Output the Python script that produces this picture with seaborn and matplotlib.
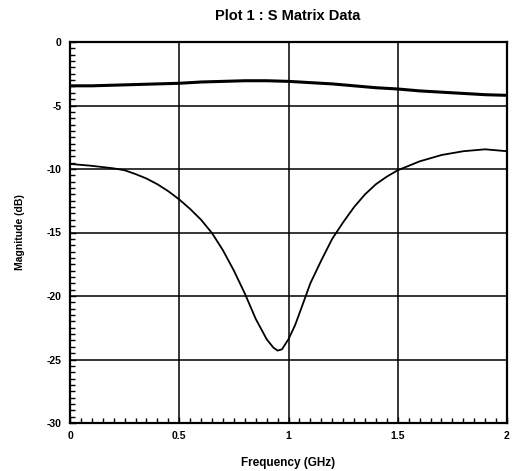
import numpy as np
import pandas as pd
import seaborn as sns
import matplotlib
matplotlib.use("Agg")
import matplotlib.pyplot as plt
from matplotlib.ticker import MultipleLocator

# ---- data ----
freq_upper = [0.0, 0.1, 0.2, 0.3, 0.4, 0.5, 0.6, 0.7, 0.8, 0.9, 1.0,
              1.1, 1.2, 1.3, 1.4, 1.5, 1.6, 1.7, 1.8, 1.9, 2.0]
mag_upper = [-3.45, -3.45, -3.4, -3.35, -3.3, -3.25, -3.15, -3.1, -3.05, -3.05, -3.1,
             -3.2, -3.3, -3.45, -3.6, -3.7, -3.85, -3.95, -4.05, -4.15, -4.2]

freq_lower = [0.0, 0.1, 0.2, 0.25, 0.3, 0.35, 0.4, 0.45, 0.5, 0.55, 0.6, 0.65, 0.7,
              0.75, 0.8, 0.85, 0.9, 0.93, 0.95, 0.97, 1.0, 1.03, 1.06, 1.1, 1.15,
              1.2, 1.25, 1.3, 1.35, 1.4, 1.45, 1.5, 1.6, 1.7, 1.8, 1.9, 2.0]
mag_lower = [-9.6, -9.75, -9.95, -10.1, -10.4, -10.75, -11.2, -11.75, -12.4, -13.15,
             -14.0, -15.05, -16.4, -18.0, -19.8, -21.8, -23.4, -24.05, -24.3, -24.2,
             -23.4, -22.3, -20.9, -19.0, -17.2, -15.5, -14.2, -13.0, -12.0, -11.2,
             -10.6, -10.1, -9.4, -8.9, -8.6, -8.45, -8.6]

x_ticks = [0, 0.5, 1, 1.5, 2]
x_ticklabels = ["0", "0.5", "1", "1.5", "2"]
y_ticks = [0, -5, -10, -15, -20, -25, -30]
y_ticklabels = ["0", "-5", "-10", "-15", "-20", "-25", "-30"]

title = "Plot 1 : S Matrix Data"
xlabel = "Frequency (GHz)"
ylabel = "Magnitude (dB)"

sns.set_theme(style="white")
plt.rcParams["font.family"] = ["Liberation Sans", "DejaVu Sans"]
plt.rcParams["text.color"] = "black"
plt.rcParams["axes.labelcolor"] = "black"

fig = plt.figure(figsize=(5.16, 4.71), dpi=100)
ax = fig.add_axes([70 / 516, 48 / 471, 437 / 516, 381 / 471])

df_u = pd.DataFrame({"f": freq_upper, "m": mag_upper})
df_l = pd.DataFrame({"f": freq_lower, "m": mag_lower})
sns.lineplot(data=df_u, x="f", y="m", ax=ax, color="black", linewidth=2.2)
sns.lineplot(data=df_l, x="f", y="m", ax=ax, color="black", linewidth=1.3)

ax.set_xlim(0, 2)
ax.set_ylim(-30, 0)
ax.set_xticks(x_ticks)
ax.set_xticklabels(x_ticklabels)
ax.set_yticks(y_ticks)
ax.set_yticklabels(y_ticklabels)
ax.xaxis.set_minor_locator(MultipleLocator(0.05))
ax.yaxis.set_minor_locator(MultipleLocator(0.5))
ax.tick_params(axis="both", which="both", direction="in", colors="black",
               labelcolor="black", labelsize=7.5, top=False, right=False,
               left=True, bottom=True)
ax.tick_params(which="minor", length=3.5, width=1.0)
ax.tick_params(which="major", length=4, width=1.0, pad=6)
for lab in ax.get_xticklabels() + ax.get_yticklabels():
    lab.set_fontweight("bold")

ax.grid(True, which="major", color="black", linewidth=1.1)
for s in ax.spines.values():
    s.set_visible(True)
    s.set_color("black")
    s.set_linewidth(1.6)

ax.set_xlabel(xlabel, fontsize=8.5, fontweight="bold", labelpad=11)
ax.set_ylabel(ylabel, fontsize=7.5, fontweight="bold", labelpad=16)
fig.text(288 / 516, 1 - 16 / 471, title, ha="center", va="center",
         fontsize=10.5, fontweight="bold")

fig.savefig("out.png", dpi=100, facecolor="white")
